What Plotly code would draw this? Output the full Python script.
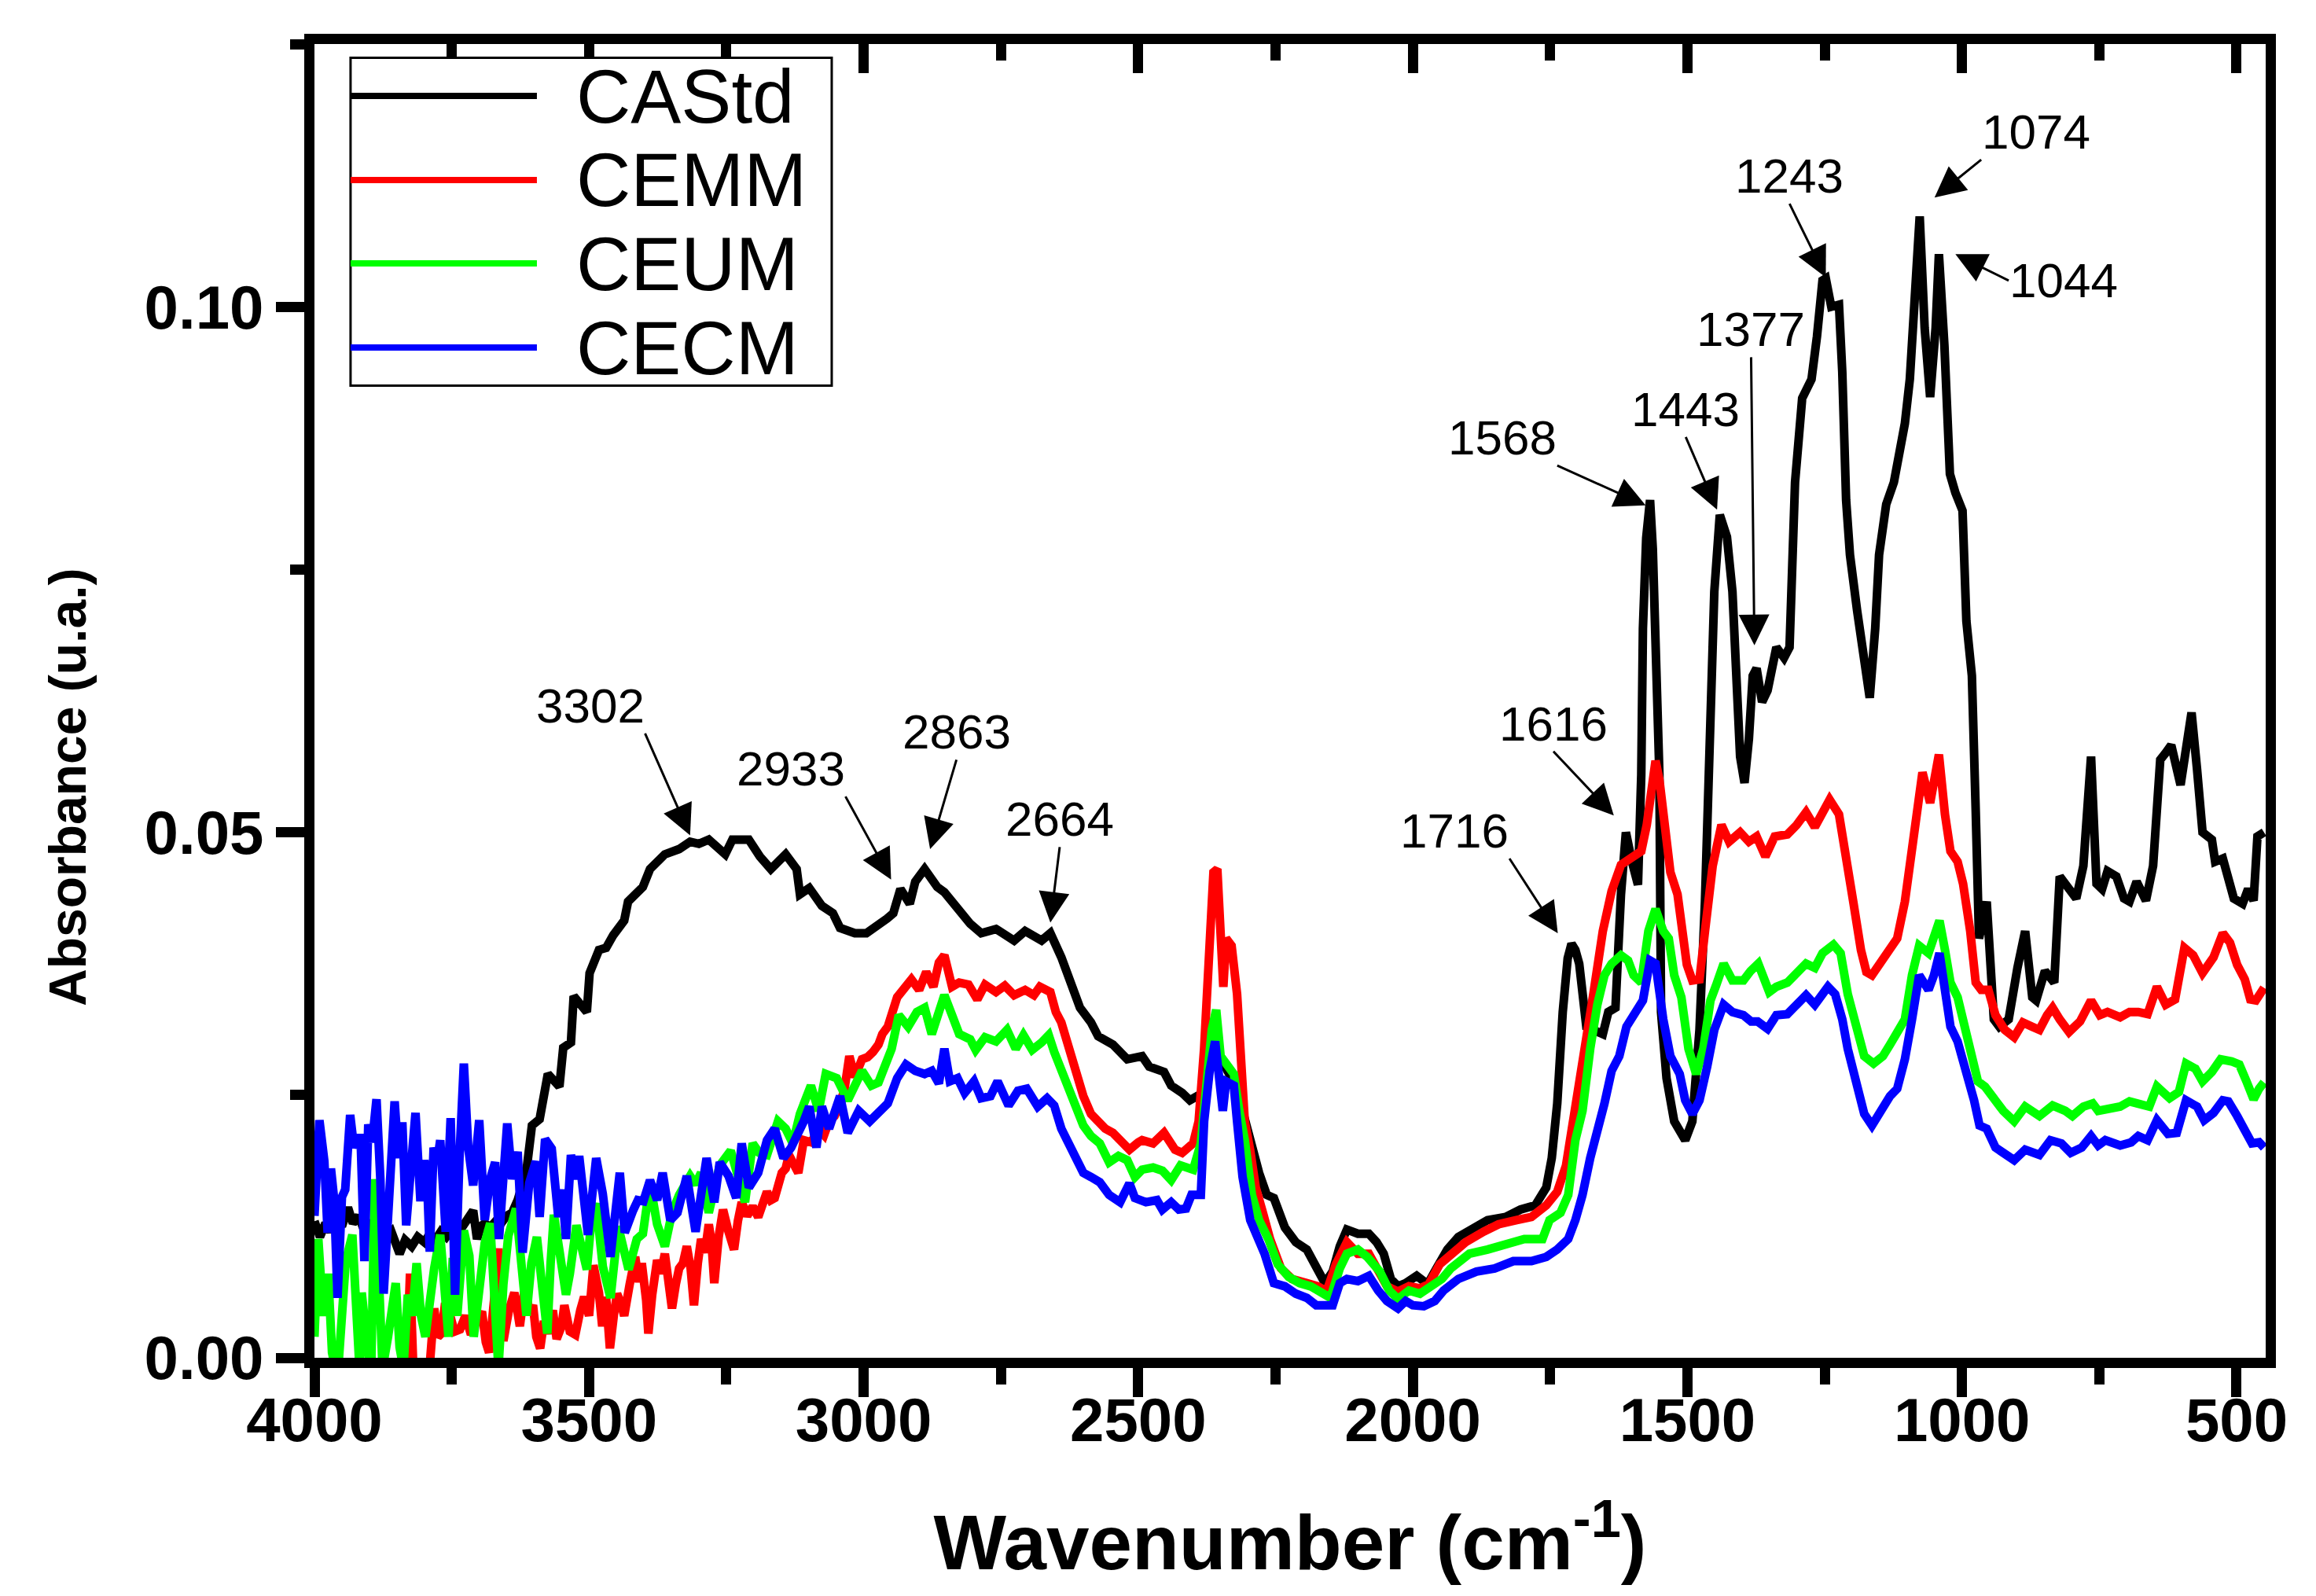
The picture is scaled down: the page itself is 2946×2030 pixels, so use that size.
import plotly.graph_objects as go

# ---------------- data (wavenumber cm-1, absorbance u.a.) ----------------
CASTD = [
    (4000, 0.0130), (3990, 0.0115), (3980, 0.0128), (3971, 0.0120), (3960, 0.0135), (3950, 0.0125),
    (3939, 0.0143), (3930, 0.0128), (3920, 0.0135), (3910, 0.0122), (3900, 0.0130), (3890, 0.0118),
    (3880, 0.0126), (3870, 0.0115), (3860, 0.0120), (3852, 0.0110), (3845, 0.0099), (3835, 0.0112),
    (3823, 0.0106), (3812, 0.0115), (3800, 0.0110), (3790, 0.0118), (3780, 0.0112), (3770, 0.0120),
    (3760, 0.0115), (3750, 0.0122), (3740, 0.0118), (3730, 0.0125), (3720, 0.0132), (3711, 0.0140),
    (3704, 0.0113), (3697, 0.0125), (3690, 0.0128), (3680, 0.0124), (3670, 0.0130), (3660, 0.0128),
    (3650, 0.0135), (3640, 0.0138), (3630, 0.0150), (3620, 0.0165), (3614, 0.0178), (3604, 0.0221),
    (3590, 0.0227), (3575, 0.0270), (3554, 0.0258), (3547, 0.0295), (3533, 0.0300), (3528, 0.0344),
    (3504, 0.0329), (3499, 0.0366), (3482, 0.0388), (3469, 0.0390), (3456, 0.0402), (3436, 0.0416),
    (3429, 0.0434), (3402, 0.0448), (3389, 0.0465), (3362, 0.0479), (3336, 0.0484), (3316, 0.0491),
    (3300, 0.0489), (3282, 0.0493), (3269, 0.0488), (3252, 0.0479), (3239, 0.0493), (3209, 0.0493),
    (3189, 0.0477), (3169, 0.0465), (3142, 0.0479), (3122, 0.0465), (3116, 0.0441), (3099, 0.0447),
    (3076, 0.0430), (3056, 0.0423), (3043, 0.0409), (3016, 0.0404), (2995, 0.0404), (2983, 0.0408),
    (2966, 0.0414), (2957, 0.0418), (2946, 0.0423), (2933, 0.0446), (2916, 0.0432), (2906, 0.0453),
    (2889, 0.0465), (2866, 0.0448), (2853, 0.0443), (2839, 0.0434), (2819, 0.0423), (2806, 0.0413),
    (2786, 0.0404), (2759, 0.0408), (2726, 0.0397), (2706, 0.0406), (2676, 0.0397), (2660, 0.0404),
    (2640, 0.0381), (2623, 0.0357), (2606, 0.0333), (2586, 0.0319), (2573, 0.0306), (2546, 0.0298),
    (2520, 0.0284), (2493, 0.0287), (2480, 0.0277), (2453, 0.0272), (2440, 0.0259), (2420, 0.0252),
    (2406, 0.0245), (2386, 0.0251), (2376, 0.0262), (2366, 0.0290), (2358, 0.0305), (2350, 0.0285),
    (2340, 0.0275), (2326, 0.0262), (2310, 0.0235), (2293, 0.0197), (2280, 0.0176), (2266, 0.0155),
    (2253, 0.0152), (2233, 0.0124), (2213, 0.0110), (2193, 0.0103), (2173, 0.0085), (2160, 0.0071),
    (2146, 0.0082), (2133, 0.0106), (2120, 0.0122), (2100, 0.0118), (2080, 0.0118), (2066, 0.0110),
    (2053, 0.0099), (2040, 0.0075), (2027, 0.0068), (2013, 0.0071), (1993, 0.0078), (1984, 0.0075),
    (1973, 0.0070), (1957, 0.0085), (1937, 0.0103), (1917, 0.0115), (1891, 0.0122), (1864, 0.0131),
    (1831, 0.0134), (1804, 0.0141), (1777, 0.0145), (1757, 0.0162), (1747, 0.0190), (1737, 0.0242),
    (1727, 0.0329), (1718, 0.0380), (1711, 0.0394), (1704, 0.0388), (1697, 0.0375), (1684, 0.0315),
    (1671, 0.0312), (1654, 0.0308), (1644, 0.0329), (1631, 0.0333), (1621, 0.0441), (1612, 0.0500),
    (1601, 0.0472), (1590, 0.0450), (1584, 0.0555), (1581, 0.0694), (1575, 0.0780), (1568, 0.0816),
    (1563, 0.0770), (1558, 0.0694), (1551, 0.0555), (1548, 0.0329), (1538, 0.0266), (1524, 0.0225),
    (1504, 0.0207), (1491, 0.0225), (1478, 0.0312), (1468, 0.0434), (1461, 0.0540), (1458, 0.0624),
    (1451, 0.0729), (1441, 0.0802), (1436, 0.0795), (1428, 0.0781), (1418, 0.0729), (1411, 0.0642),
    (1404, 0.0572), (1396, 0.0547), (1388, 0.0589), (1381, 0.0649), (1374, 0.0656), (1364, 0.0624),
    (1354, 0.0635), (1338, 0.0676), (1324, 0.0666), (1314, 0.0676), (1304, 0.0833), (1291, 0.0913),
    (1274, 0.0931), (1264, 0.0972), (1254, 0.1025), (1248, 0.1027), (1238, 0.1000), (1224, 0.1002),
    (1218, 0.0938), (1211, 0.0816), (1204, 0.0764), (1191, 0.0711), (1178, 0.0659), (1168, 0.0628),
    (1158, 0.0694), (1151, 0.0764), (1138, 0.0812), (1124, 0.0833), (1114, 0.0861), (1104, 0.0889),
    (1095, 0.0931), (1088, 0.1007), (1082, 0.1060), (1077, 0.1086), (1068, 0.0980), (1058, 0.0914),
    (1048, 0.0980), (1042, 0.1050), (1032, 0.0963), (1022, 0.0841), (1012, 0.0823), (999, 0.0806),
    (992, 0.0701), (982, 0.0649), (975, 0.0520), (969, 0.0399), (955, 0.0434), (949, 0.0364),
    (942, 0.0322), (932, 0.0315), (915, 0.0322), (899, 0.0371), (885, 0.0406), (872, 0.0343),
    (865, 0.0340), (849, 0.0368), (832, 0.0357), (822, 0.0458), (812, 0.0451), (792, 0.0437),
    (779, 0.0468), (765, 0.0572), (755, 0.0451), (745, 0.0446), (735, 0.0463), (719, 0.0458),
    (705, 0.0437), (695, 0.0434), (682, 0.0453), (665, 0.0435), (652, 0.0468), (642, 0.0540),
    (639, 0.0569), (630, 0.0575), (619, 0.0583), (602, 0.0545), (582, 0.0614), (572, 0.0560),
    (562, 0.0500), (545, 0.0493), (539, 0.0472), (525, 0.0475), (515, 0.0458), (505, 0.0437),
    (489, 0.0432), (479, 0.0446), (469, 0.0435), (462, 0.0496), (450, 0.0500),
]

CEMM = [
    (4000, -0.0020), (3990, -0.0040), (3980, -0.0010), (3970, -0.0030), (3960, -0.0015), (3950, -0.0040),
    (3940, -0.0020), (3930, -0.0035), (3920, -0.0010), (3910, -0.0030), (3900, -0.0020), (3890, -0.0040),
    (3880, -0.0015), (3870, -0.0030), (3860, -0.0010), (3850, -0.0025), (3840, -0.0005), (3832, -0.0010),
    (3826, 0.0080), (3820, -0.0010), (3810, -0.0030), (3800, -0.0005), (3792, -0.0020), (3782, 0.0047),
    (3775, 0.0020), (3769, 0.0023), (3762, 0.0052), (3755, 0.0044), (3745, 0.0025), (3735, 0.0027),
    (3725, 0.0040), (3715, 0.0022), (3705, 0.0035), (3695, 0.0044), (3688, 0.0015), (3682, 0.0005),
    (3672, 0.0060), (3665, 0.0104), (3660, 0.0040), (3656, 0.0016), (3646, 0.0045), (3636, 0.0062),
    (3626, 0.0030), (3616, 0.0071), (3609, 0.0042), (3602, 0.0050), (3596, 0.0020), (3589, 0.0009),
    (3582, 0.0035), (3576, 0.0023), (3566, 0.0045), (3559, 0.0018), (3550, 0.0030), (3545, 0.0050),
    (3535, 0.0025), (3525, 0.0022), (3516, 0.0045), (3509, 0.0058), (3500, 0.0040), (3492, 0.0088),
    (3482, 0.0062), (3476, 0.0030), (3469, 0.0058), (3462, 0.0009), (3455, 0.0040), (3449, 0.0061),
    (3442, 0.0052), (3436, 0.0040), (3426, 0.0070), (3416, 0.0096), (3409, 0.0072), (3404, 0.0090),
    (3396, 0.0055), (3392, 0.0023), (3385, 0.0060), (3376, 0.0093), (3369, 0.0080), (3362, 0.0099),
    (3356, 0.0075), (3349, 0.0047), (3342, 0.0070), (3336, 0.0085), (3329, 0.0090), (3322, 0.0106),
    (3315, 0.0085), (3309, 0.0050), (3302, 0.0090), (3296, 0.0113), (3289, 0.0100), (3282, 0.0127),
    (3277, 0.0110), (3272, 0.0071), (3264, 0.0115), (3256, 0.0141), (3246, 0.0120), (3236, 0.0103),
    (3229, 0.0130), (3222, 0.0148), (3212, 0.0135), (3202, 0.0144), (3192, 0.0134), (3184, 0.0145),
    (3176, 0.0158), (3169, 0.0150), (3162, 0.0152), (3155, 0.0165), (3149, 0.0176), (3142, 0.0180),
    (3136, 0.0193), (3128, 0.0185), (3119, 0.0176), (3109, 0.0207), (3095, 0.0205), (3082, 0.0218),
    (3072, 0.0212), (3063, 0.0225), (3053, 0.0230), (3043, 0.0242), (3035, 0.0255), (3026, 0.0287),
    (3016, 0.0267), (3003, 0.0284), (2993, 0.0286), (2983, 0.0291), (2973, 0.0298), (2966, 0.0308),
    (2956, 0.0315), (2939, 0.0343), (2929, 0.0350), (2913, 0.0360), (2899, 0.0350), (2886, 0.0367),
    (2873, 0.0353), (2863, 0.0376), (2853, 0.0383), (2839, 0.0353), (2826, 0.0357), (2809, 0.0355),
    (2793, 0.0341), (2779, 0.0355), (2759, 0.0348), (2743, 0.0354), (2726, 0.0345), (2706, 0.0350),
    (2690, 0.0345), (2679, 0.0353), (2660, 0.0348), (2650, 0.0329), (2640, 0.0319), (2626, 0.0294),
    (2613, 0.0266), (2600, 0.0249), (2586, 0.0232), (2573, 0.0225), (2560, 0.0218), (2546, 0.0214),
    (2530, 0.0204), (2516, 0.0198), (2500, 0.0205), (2493, 0.0207), (2473, 0.0204), (2453, 0.0214),
    (2433, 0.0198), (2420, 0.0195), (2400, 0.0204), (2390, 0.0225), (2380, 0.0294), (2370, 0.0399),
    (2363, 0.0462), (2356, 0.0465), (2350, 0.0388), (2345, 0.0353), (2340, 0.0399), (2330, 0.0392),
    (2320, 0.0346), (2313, 0.0277), (2306, 0.0225), (2296, 0.0197), (2286, 0.0162), (2273, 0.0138),
    (2260, 0.0113), (2240, 0.0085), (2220, 0.0075), (2193, 0.0071), (2173, 0.0068), (2157, 0.0063),
    (2140, 0.0089), (2120, 0.0110), (2100, 0.0099), (2080, 0.0099), (2063, 0.0085), (2047, 0.0068),
    (2027, 0.0063), (2007, 0.0068), (1987, 0.0066), (1971, 0.0070), (1951, 0.0089), (1931, 0.0099),
    (1904, 0.0110), (1871, 0.0120), (1844, 0.0127), (1811, 0.0131), (1784, 0.0134), (1757, 0.0145),
    (1737, 0.0158), (1721, 0.0183), (1704, 0.0235), (1688, 0.0294), (1671, 0.0347), (1654, 0.0406),
    (1638, 0.0444), (1621, 0.0469), (1601, 0.0476), (1584, 0.0482), (1574, 0.0507), (1565, 0.0545),
    (1558, 0.0568), (1551, 0.0550), (1544, 0.0524), (1531, 0.0462), (1518, 0.0441), (1508, 0.0409),
    (1501, 0.0374), (1491, 0.0359), (1478, 0.0360), (1468, 0.0406), (1454, 0.0468), (1438, 0.0507),
    (1424, 0.0491), (1404, 0.0500), (1388, 0.0491), (1374, 0.0496), (1358, 0.0477), (1341, 0.0496),
    (1318, 0.0498), (1301, 0.0507), (1284, 0.0519), (1268, 0.0505), (1254, 0.0521), (1241, 0.0531),
    (1224, 0.0517), (1211, 0.0469), (1198, 0.0434), (1184, 0.0388), (1174, 0.0367), (1164, 0.0364),
    (1151, 0.0374), (1134, 0.0387), (1118, 0.0399), (1104, 0.0434), (1091, 0.0486), (1081, 0.0531),
    (1072, 0.0557), (1058, 0.0528), (1050, 0.0550), (1042, 0.0574), (1031, 0.0517), (1021, 0.0482),
    (1008, 0.0472), (998, 0.0451), (985, 0.0406), (975, 0.0357), (965, 0.0350), (952, 0.0350),
    (939, 0.0326), (922, 0.0312), (905, 0.0305), (889, 0.0319), (872, 0.0315), (859, 0.0312),
    (845, 0.0326), (835, 0.0333), (822, 0.0322), (805, 0.0310), (785, 0.0320), (765, 0.0340),
    (749, 0.0326), (735, 0.0329), (712, 0.0324), (695, 0.0329), (679, 0.0329), (662, 0.0327),
    (645, 0.0353), (629, 0.0336), (612, 0.0341), (595, 0.0390), (579, 0.0383), (562, 0.0366),
    (542, 0.0381), (525, 0.0404), (512, 0.0395), (499, 0.0374), (485, 0.0360), (475, 0.0341),
    (465, 0.0340), (450, 0.0352),
]

CEUM = [
    (4000, 0.0020), (3993, 0.0113), (3984, 0.0040), (3975, 0.0080), (3968, 0.0005), (3958, -0.0020),
    (3950, 0.0040), (3943, 0.0092), (3931, 0.0117), (3924, 0.0030), (3918, -0.0010), (3914, 0.0062),
    (3905, 0.0010), (3897, -0.0020), (3890, 0.0170), (3883, 0.0100), (3876, -0.0010), (3866, 0.0020),
    (3858, 0.0050), (3852, 0.0071), (3845, 0.0010), (3838, -0.0010), (3830, 0.0060), (3822, 0.0040),
    (3814, 0.0090), (3806, 0.0040), (3798, 0.0020), (3790, 0.0060), (3782, 0.0085), (3771, 0.0117),
    (3763, 0.0060), (3756, 0.0020), (3748, 0.0095), (3740, 0.0040), (3728, 0.0121), (3718, 0.0097),
    (3710, 0.0020), (3700, 0.0060), (3690, 0.0109), (3680, 0.0128), (3672, 0.0040), (3665, -0.0010),
    (3656, 0.0070), (3647, 0.0116), (3633, 0.0142), (3622, 0.0074), (3614, 0.0040), (3605, 0.0090),
    (3595, 0.0115), (3585, 0.0066), (3576, 0.0023), (3570, 0.0090), (3564, 0.0136), (3554, 0.0102),
    (3542, 0.0060), (3535, 0.0080), (3523, 0.0126), (3504, 0.0084), (3496, 0.0130), (3487, 0.0147),
    (3475, 0.0087), (3461, 0.0057), (3447, 0.0125), (3428, 0.0084), (3413, 0.0113), (3402, 0.0118),
    (3389, 0.0166), (3376, 0.0127), (3362, 0.0106), (3349, 0.0138), (3336, 0.0155), (3316, 0.0173),
    (3306, 0.0165), (3296, 0.0176), (3282, 0.0138), (3262, 0.0183), (3242, 0.0197), (3229, 0.0173),
    (3216, 0.0148), (3202, 0.0204), (3190, 0.0195), (3176, 0.0193), (3156, 0.0225), (3142, 0.0218),
    (3129, 0.0204), (3116, 0.0232), (3096, 0.0259), (3082, 0.0235), (3069, 0.0270), (3049, 0.0266),
    (3029, 0.0245), (3003, 0.0273), (2986, 0.0259), (2973, 0.0262), (2959, 0.0280), (2949, 0.0294),
    (2936, 0.0326), (2919, 0.0315), (2903, 0.0329), (2889, 0.0333), (2876, 0.0308), (2863, 0.0329),
    (2853, 0.0345), (2839, 0.0326), (2826, 0.0308), (2806, 0.0303), (2796, 0.0293), (2779, 0.0305),
    (2759, 0.0301), (2739, 0.0312), (2723, 0.0294), (2709, 0.0307), (2693, 0.0293), (2676, 0.0300),
    (2663, 0.0307), (2653, 0.0291), (2640, 0.0273), (2626, 0.0259), (2613, 0.0238), (2600, 0.0221),
    (2586, 0.0211), (2570, 0.0204), (2553, 0.0186), (2536, 0.0192), (2520, 0.0188), (2506, 0.0172),
    (2493, 0.0179), (2473, 0.0181), (2456, 0.0178), (2440, 0.0169), (2423, 0.0183), (2400, 0.0179),
    (2386, 0.0204), (2376, 0.0252), (2366, 0.0312), (2358, 0.0331), (2350, 0.0287), (2340, 0.0280),
    (2326, 0.0270), (2316, 0.0235), (2306, 0.0207), (2293, 0.0155), (2280, 0.0131), (2263, 0.0113),
    (2246, 0.0089), (2226, 0.0077), (2206, 0.0071), (2186, 0.0068), (2166, 0.0061), (2150, 0.0057),
    (2133, 0.0085), (2120, 0.0099), (2100, 0.0103), (2083, 0.0096), (2060, 0.0082), (2043, 0.0064),
    (2027, 0.0056), (2007, 0.0064), (1987, 0.0061), (1967, 0.0068), (1947, 0.0075), (1931, 0.0085),
    (1897, 0.0099), (1864, 0.0103), (1831, 0.0108), (1797, 0.0113), (1764, 0.0113), (1751, 0.0131),
    (1731, 0.0138), (1717, 0.0155), (1704, 0.0207), (1691, 0.0235), (1677, 0.0294), (1664, 0.0336),
    (1651, 0.0364), (1638, 0.0375), (1621, 0.0383), (1608, 0.0378), (1598, 0.0364), (1584, 0.0357),
    (1571, 0.0406), (1558, 0.0427), (1544, 0.0406), (1534, 0.0399), (1524, 0.0364), (1511, 0.0343),
    (1498, 0.0294), (1484, 0.0270), (1471, 0.0294), (1458, 0.0340), (1448, 0.0354), (1434, 0.0375),
    (1418, 0.0359), (1398, 0.0359), (1385, 0.0368), (1371, 0.0375), (1351, 0.0348), (1338, 0.0353),
    (1318, 0.0357), (1301, 0.0365), (1284, 0.0375), (1268, 0.0371), (1254, 0.0385), (1234, 0.0393),
    (1221, 0.0385), (1208, 0.0346), (1191, 0.0315), (1178, 0.0287), (1161, 0.0280), (1144, 0.0287),
    (1131, 0.0298), (1118, 0.0308), (1104, 0.0322), (1091, 0.0364), (1078, 0.0392), (1061, 0.0385),
    (1051, 0.0399), (1041, 0.0416), (1031, 0.0388), (1021, 0.0357), (1008, 0.0343), (998, 0.0322),
    (985, 0.0294), (971, 0.0263), (958, 0.0258), (945, 0.0249), (939, 0.0245), (925, 0.0235),
    (905, 0.0225), (885, 0.0239), (859, 0.0230), (835, 0.0240), (812, 0.0235), (799, 0.0230),
    (779, 0.0239), (762, 0.0242), (752, 0.0235), (732, 0.0237), (712, 0.0239), (695, 0.0244),
    (679, 0.0242), (659, 0.0239), (645, 0.0258), (622, 0.0247), (605, 0.0253), (592, 0.0280),
    (575, 0.0275), (562, 0.0263), (545, 0.0272), (529, 0.0284), (509, 0.0282), (495, 0.0279),
    (482, 0.0263), (469, 0.0246), (459, 0.0256), (450, 0.0262),
]

CECM = [
    (4000, 0.0135), (3991, 0.0226), (3982, 0.0187), (3976, 0.0119), (3970, 0.0180), (3964, 0.0150),
    (3958, 0.0057), (3950, 0.0153), (3944, 0.0160), (3935, 0.0231), (3928, 0.0200), (3921, 0.0209),
    (3916, 0.0209), (3909, 0.0092), (3902, 0.0222), (3895, 0.0205), (3887, 0.0246), (3880, 0.0170),
    (3874, 0.0061), (3866, 0.0150), (3860, 0.0205), (3854, 0.0244), (3847, 0.0190), (3840, 0.0224),
    (3833, 0.0126), (3825, 0.0180), (3816, 0.0233), (3807, 0.0149), (3800, 0.0188), (3795, 0.0170),
    (3790, 0.0101), (3783, 0.0200), (3777, 0.0185), (3771, 0.0207), (3761, 0.0120), (3752, 0.0228),
    (3744, 0.0060), (3736, 0.0190), (3728, 0.0280), (3720, 0.0200), (3711, 0.0164), (3700, 0.0226),
    (3690, 0.0131), (3680, 0.0170), (3671, 0.0186), (3664, 0.0113), (3656, 0.0180), (3649, 0.0223),
    (3640, 0.0170), (3630, 0.0196), (3621, 0.0100), (3609, 0.0166), (3597, 0.0187), (3590, 0.0134),
    (3580, 0.0208), (3568, 0.0199), (3556, 0.0134), (3549, 0.0160), (3542, 0.0113), (3533, 0.0193),
    (3525, 0.0170), (3518, 0.0192), (3502, 0.0117), (3487, 0.0190), (3475, 0.0156), (3461, 0.0096),
    (3444, 0.0176), (3435, 0.0119), (3420, 0.0140), (3411, 0.0150), (3401, 0.0149), (3389, 0.0169),
    (3376, 0.0150), (3366, 0.0176), (3352, 0.0131), (3339, 0.0138), (3322, 0.0173), (3306, 0.0120),
    (3286, 0.0190), (3272, 0.0148), (3262, 0.0186), (3246, 0.0173), (3232, 0.0152), (3222, 0.0204),
    (3209, 0.0162), (3192, 0.0176), (3176, 0.0207), (3162, 0.0218), (3146, 0.0190), (3132, 0.0200),
    (3109, 0.0225), (3099, 0.0239), (3086, 0.0200), (3076, 0.0239), (3063, 0.0218), (3043, 0.0249),
    (3029, 0.0214), (3009, 0.0235), (2989, 0.0225), (2963, 0.0239), (2956, 0.0242), (2939, 0.0266),
    (2923, 0.0279), (2906, 0.0273), (2889, 0.0270), (2876, 0.0273), (2863, 0.0261), (2853, 0.0294),
    (2843, 0.0263), (2829, 0.0266), (2816, 0.0252), (2799, 0.0263), (2786, 0.0247), (2769, 0.0249),
    (2756, 0.0263), (2736, 0.0240), (2719, 0.0254), (2703, 0.0256), (2683, 0.0239), (2666, 0.0247),
    (2653, 0.0240), (2640, 0.0218), (2626, 0.0204), (2613, 0.0190), (2600, 0.0176), (2586, 0.0172),
    (2570, 0.0167), (2553, 0.0155), (2533, 0.0148), (2516, 0.0166), (2506, 0.0152), (2486, 0.0148),
    (2466, 0.0150), (2456, 0.0141), (2440, 0.0148), (2426, 0.0141), (2413, 0.0142), (2403, 0.0155),
    (2386, 0.0155), (2380, 0.0225), (2370, 0.0273), (2360, 0.0301), (2353, 0.0273), (2346, 0.0235),
    (2340, 0.0263), (2326, 0.0259), (2320, 0.0225), (2310, 0.0172), (2296, 0.0131), (2283, 0.0117),
    (2270, 0.0099), (2253, 0.0071), (2233, 0.0068), (2213, 0.0061), (2193, 0.0057), (2176, 0.0050),
    (2160, 0.0049), (2146, 0.0050), (2133, 0.0071), (2120, 0.0075), (2100, 0.0073), (2080, 0.0078),
    (2063, 0.0064), (2047, 0.0054), (2027, 0.0047), (2013, 0.0054), (2000, 0.0050), (1980, 0.0049),
    (1960, 0.0054), (1944, 0.0064), (1917, 0.0075), (1884, 0.0082), (1851, 0.0085), (1817, 0.0092),
    (1784, 0.0092), (1757, 0.0096), (1737, 0.0103), (1717, 0.0113), (1704, 0.0131), (1691, 0.0155),
    (1677, 0.0190), (1664, 0.0214), (1651, 0.0242), (1638, 0.0273), (1624, 0.0287), (1611, 0.0315),
    (1598, 0.0327), (1581, 0.0340), (1568, 0.0378), (1558, 0.0375), (1544, 0.0322), (1531, 0.0287),
    (1514, 0.0270), (1504, 0.0245), (1491, 0.0232), (1478, 0.0245), (1464, 0.0277), (1451, 0.0312),
    (1434, 0.0336), (1418, 0.0329), (1398, 0.0326), (1384, 0.0320), (1372, 0.0320), (1354, 0.0313),
    (1338, 0.0326), (1318, 0.0327), (1301, 0.0336), (1284, 0.0345), (1268, 0.0336), (1254, 0.0345),
    (1244, 0.0353), (1231, 0.0346), (1218, 0.0322), (1208, 0.0294), (1191, 0.0259), (1178, 0.0232),
    (1164, 0.0221), (1151, 0.0232), (1131, 0.0249), (1118, 0.0256), (1104, 0.0284), (1091, 0.0322),
    (1078, 0.0364), (1061, 0.0350), (1051, 0.0364), (1041, 0.0385), (1031, 0.0353), (1021, 0.0315),
    (1008, 0.0301), (992, 0.0273), (978, 0.0245), (968, 0.0221), (955, 0.0218), (939, 0.0200),
    (922, 0.0193), (905, 0.0188), (885, 0.0198), (859, 0.0193), (839, 0.0207), (819, 0.0204),
    (802, 0.0195), (782, 0.0200), (765, 0.0211), (752, 0.0202), (739, 0.0207), (712, 0.0202),
    (692, 0.0205), (679, 0.0211), (662, 0.0207), (645, 0.0226), (625, 0.0213), (609, 0.0214),
    (592, 0.0245), (572, 0.0239), (559, 0.0226), (542, 0.0233), (525, 0.0245), (515, 0.0244),
    (499, 0.0230), (485, 0.0214), (472, 0.0204), (459, 0.0205), (450, 0.0200),
]

SERIES_NAMES = ["CAStd", "CEMM", "CEUM", "CECM"]
SERIES_COLORS = ["#000000", "#ff0000", "#00ff00", "#0000ff"]

X_TICKS = [4000, 3500, 3000, 2500, 2000, 1500, 1000, 500]
X_MINOR = [3750, 3250, 2750, 2250, 1750, 1250, 750]
Y_TICKS = [0.0, 0.05, 0.10]
Y_TICK_LABELS = ["0.00", "0.05", "0.10"]
Y_MINOR = [0.025, 0.075, 0.125]
X_RANGE = [4000, 447]
Y_RANGE = [0, 0.125]

# peak annotations: label text, arrow tail (where the label box sits), arrow tip, label anchoring
PEAK_LABELS = ["3302", "2933", "2863", "2664", "1716", "1616", "1568", "1443", "1377", "1243", "1074", "1044"]
TAIL_X = [3398, 3033, 2831, 2643, 1824, 1744, 1737, 1503, 1384, 1314, 965, 915]
TAIL_Y = [0.0594, 0.0534, 0.0569, 0.0486, 0.0475, 0.0577, 0.0849, 0.0876, 0.0952, 0.1098, 0.1140, 0.1025]
TIP_X = [3316, 2950, 2879, 2660, 1736, 1634, 1576, 1446, 1378, 1248, 1050, 1012]
TIP_Y = [0.0497, 0.0455, 0.0484, 0.0414, 0.0404, 0.0516, 0.0811, 0.0807, 0.0678, 0.1028, 0.1104, 0.1050]
LABEL_XANCHOR = ["right", "right", "center", "center", "right", "center", "right", "center", "center", "center", "left", "left"]
LABEL_YANCHOR = ["bottom", "bottom", "bottom", "bottom", "bottom", "bottom", "bottom", "bottom", "bottom", "bottom", "bottom", "middle"]

# ---------------- figure ----------------
FONT = "Liberation Sans, Arial, Helvetica, sans-serif"
W, H = 2946, 2030
ML, MR, MT, MB = 392, 72, 48, 311

fig = go.Figure()
for name, color, data in zip(SERIES_NAMES, SERIES_COLORS, [CASTD, CEMM, CEUM, CECM]):
    fig.add_trace(go.Scatter(
        x=[p[0] for p in data], y=[p[1] for p in data], name=name, mode="lines",
        line=dict(color=color, width=11), showlegend=False,
    ))

# empty trace so that the top (mirror) axis with inward ticks is drawn
fig.add_trace(go.Scatter(x=[None], y=[None], xaxis="x2", yaxis="y", showlegend=False,
                         hoverinfo="skip", mode="lines"))

tickfont = dict(family=FONT, size=78, color="black", weight="bold")

fig.update_layout(
    width=W, height=H,
    margin=dict(l=ML, r=MR, t=MT, b=MB),
    paper_bgcolor="white", plot_bgcolor="white",
    showlegend=False,
    xaxis=dict(
        range=X_RANGE, tickmode="array", tickvals=X_TICKS, ticktext=[str(v) for v in X_TICKS],
        ticks="outside", ticklen=37, tickwidth=13, tickcolor="black",
        showline=True, linewidth=13, linecolor="black", mirror=True,
        showgrid=False, zeroline=False, tickfont=tickfont, ticklabelstandoff=-38,
        minor=dict(tickmode="array", tickvals=X_MINOR, ticks="outside", ticklen=21,
                   tickwidth=13, tickcolor="black", showgrid=False),
        title=dict(text="Wavenumber (cm<sup>-1</sup>)",
                   font=dict(family=FONT, size=98, color="black", weight="bold"), standoff=84),
    ),
    xaxis2=dict(
        range=X_RANGE, overlaying="x", side="top", anchor="y",
        tickmode="array", tickvals=X_TICKS, ticks="inside", ticklen=37, tickwidth=13,
        tickcolor="black", showticklabels=False, showline=False, showgrid=False, zeroline=False,
        minor=dict(tickmode="array", tickvals=X_MINOR, ticks="inside", ticklen=21,
                   tickwidth=13, tickcolor="black", showgrid=False),
    ),
    yaxis=dict(
        range=Y_RANGE, tickmode="array", tickvals=Y_TICKS, ticktext=Y_TICK_LABELS,
        ticks="outside", ticklen=36, tickwidth=13, tickcolor="black",
        showline=True, linewidth=13, linecolor="black", mirror=True,
        showgrid=False, zeroline=False, tickfont=tickfont,
        minor=dict(tickmode="array", tickvals=Y_MINOR, ticks="outside", ticklen=18,
                   tickwidth=13, tickcolor="black", showgrid=False),
    ),
)

annotations = []
# y-axis title (placed as in the original, slightly below the axis centre)
annotations.append(dict(
    text="Absorbance (u.a.)", xref="paper", yref="paper", x=-0.1265, y=0.4339,
    textangle=-90, showarrow=False, xanchor="center", yanchor="middle",
    font=dict(family=FONT, size=66, color="black", weight="bold"),
))

# peak labels with their arrows (label box sits at the arrow tail)
for lab, tx, ty, px, py, xa, ya in zip(PEAK_LABELS, TAIL_X, TAIL_Y, TIP_X, TIP_Y,
                                       LABEL_XANCHOR, LABEL_YANCHOR):
    annotations.append(dict(
        text=lab, x=px, y=py, xref="x", yref="y", ax=tx, ay=ty, axref="x", ayref="y",
        xanchor=xa, yanchor=ya, showarrow=True, arrowhead=2, arrowsize=2.6, arrowwidth=3,
        arrowcolor="black", borderpad=0,
        font=dict(family=FONT, size=62, color="black"),
    ))

# legend (drawn as a framed key like the original)
LEG_X0, LEG_X1, LEG_Y0, LEG_Y1 = 0.0185, 0.2651, 0.7400, 0.9895
LEG_LINE_X1 = 0.1140
LEG_TEXT_X = 0.1334
LEG_ROWS_Y = [0.9605, 0.8965, 0.8330, 0.7690]
shapes = [dict(type="rect", xref="paper", yref="paper", x0=LEG_X0, x1=LEG_X1, y0=LEG_Y0, y1=LEG_Y1,
               line=dict(color="black", width=3), fillcolor="white", layer="above")]
for name, color, yy in zip(SERIES_NAMES, SERIES_COLORS, LEG_ROWS_Y):
    shapes.append(dict(type="line", xref="paper", yref="paper", x0=LEG_X0, x1=LEG_LINE_X1,
                       y0=yy, y1=yy, line=dict(color=color, width=8), layer="above"))
    annotations.append(dict(
        text=name, xref="paper", yref="paper", x=LEG_TEXT_X, y=yy, showarrow=False,
        xanchor="left", yanchor="middle", font=dict(family=FONT, size=96, color="black"),
    ))

fig.update_layout(annotations=annotations, shapes=shapes)

fig.write_html("out.html")
